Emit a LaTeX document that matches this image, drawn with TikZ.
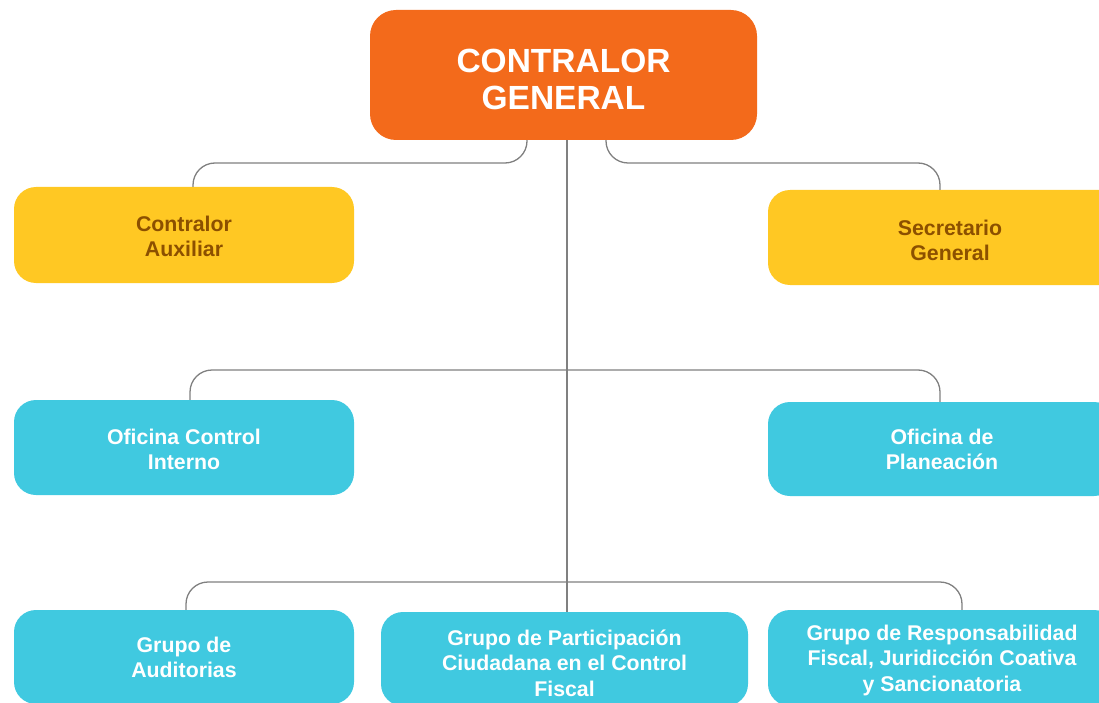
\documentclass[tikz,border=0pt]{standalone}
\usepackage{fontspec}
\setmainfont{Liberation Sans}
\usepackage{xcolor}
\usetikzlibrary{positioning,calc}
\definecolor{naranja}{HTML}{F36A1B}
\definecolor{amarillo}{HTML}{FFC823}
\definecolor{celeste}{HTML}{40C9E0}
\definecolor{cafe}{HTML}{8C5000}
\definecolor{gris}{HTML}{808080}

\begin{document}
\begin{tikzpicture}[x=1pt,y=-1pt,
  caja/.style={rounded corners=22pt,inner sep=0pt,align=center,text=white,anchor=base,
    font=\bfseries\fontsize{21.3}{25.3}\selectfont},
  cotas/.style 2 args={text height=#1,text depth=#2},
  cajaJefe/.style={caja,fill=naranja,rounded corners=26pt,
    font=\bfseries\fontsize{33.5}{37}\selectfont},
  cajaAsesor/.style={caja,fill=amarillo,text=cafe},
  cajaOficina/.style={caja,fill=celeste},
  linea/.style={draw=gris,line width=1.3pt,rounded corners=22pt}]
\useasboundingbox (0,0) rectangle (1099,703);
%\draw[help lines] (0,0) grid[step=50] (1099,703);
% nodes placed at the baseline of their last line
\node[cajaJefe,minimum width=387pt,cotas={100pt}{30pt}] (cg) at (563.5,110) {CONTRALOR\\GENERAL};
\node[cajaAsesor,minimum width=340pt,cotas={69.8pt}{26.2pt}] (aux) at (184,256.8) {Contralor\\Auxiliar};
\node[cajaAsesor,minimum width=364pt,cotas={70.8pt}{24.2pt}] (sg) at (950,260.8) {Secretario\\General};
\node[cajaOficina,minimum width=340pt,cotas={69.8pt}{25.2pt}] (oci) at (184,469.8) {Oficina Control\\Interno};
\node[cajaOficina,minimum width=348pt,cotas={67.8pt}{26.2pt}] (plan) at (942,469.8) {Oficina de\\Planeación};
\node[cajaOficina,minimum width=340pt,cotas={67.8pt}{26.2pt}] (aud) at (184,677.8) {Grupo de\\Auditorias};
\node[cajaOficina,minimum width=367pt,cotas={84.1pt}{9.9pt}] (gpc) at (564.5,696.1) {Grupo de Participación\\Ciudadana en el Control\\Fiscal};
\node[cajaOficina,minimum width=348pt,cotas={81.1pt}{14.9pt}] (grf) at (942,691.1) {Grupo de Responsabilidad\\Fiscal, Juridicción Coativa\\y Sancionatoria};
% puntos de quiebre
\coordinate (eje) at (567,0);
\coordinate (jA) at (527,163);
\coordinate (jB) at (606,163);
\coordinate (jM) at (567,370);
\coordinate (jI) at (567,582);
\draw[linea] (cg.south -| jA) -- (jA) -| ([xshift=9pt]aux.north);
\draw[linea] (cg.south -| jB) -- (jB) -| ([xshift=-10pt]sg.north);
\draw[linea] (cg.south -| eje) -- (gpc.north -| eje);
\draw[linea] ([xshift=6pt]oci.north) |- (jM) -| ([xshift=-2pt]plan.north);
\draw[linea] ([xshift=2pt]aud.north) |- (jI) -| ([xshift=20pt]grf.north);
\end{tikzpicture}
\end{document}
